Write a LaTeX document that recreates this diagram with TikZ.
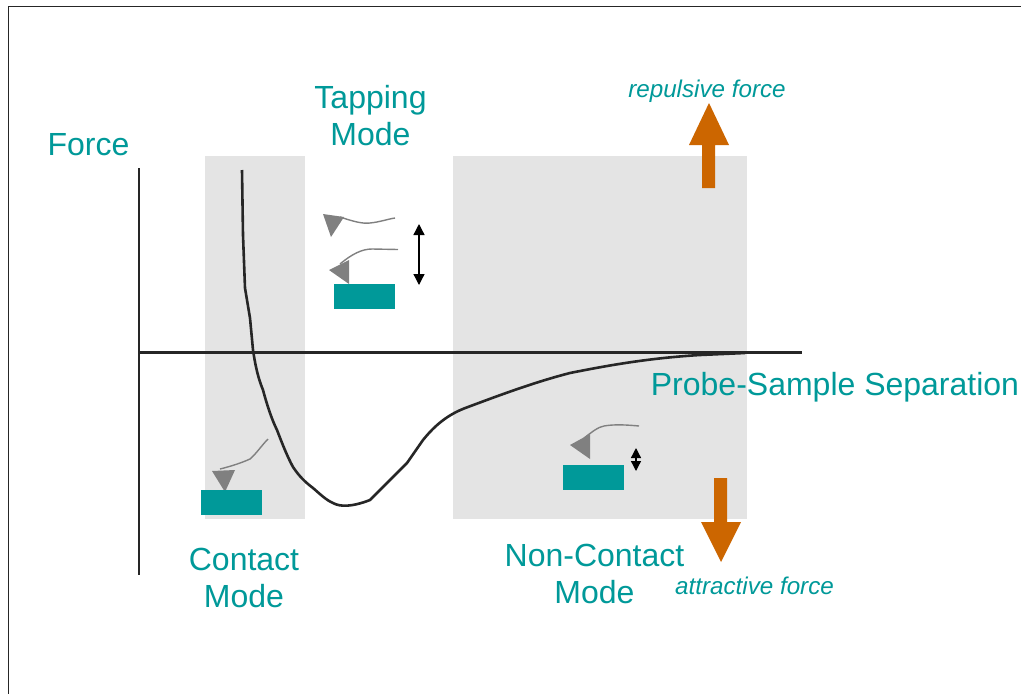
\documentclass[tikz,border=0pt]{standalone}
\usepackage{fontspec}
\setmainfont{Liberation Sans}
\usetikzlibrary{arrows.meta}
\definecolor{teal1}{HTML}{009999}
\definecolor{orange1}{HTML}{CC6600}
\definecolor{band}{HTML}{E4E4E4}
\definecolor{tipgray}{HTML}{808080}
\tikzset{
  x=1pt,y=-1pt,
  label1/.style={text=teal1,font=\fontsize{32}{37}\selectfont,align=center,inner sep=0pt,anchor=center},
  note/.style={text=teal1,font=\fontsize{24.2}{28}\selectfont\itshape,inner sep=0pt,anchor=center},
  bandbox/.style={fill=band,draw=none},
  sample/.style={fill=teal1,draw=none},
  tip/.style={fill=tipgray,draw=none},
  lever/.style={draw=tipgray,line width=1.4pt},
  curve/.style={draw=black!85,line width=2.6pt,line join=round},
  axis/.style={draw=black!85,line width=2.6pt},
  bigarrow/.style={fill=orange1,draw=none},
  dbl/.style={draw=black,line width=1.3pt,{Triangle[length=11pt,width=11pt]}-{Triangle[length=11pt,width=11pt]}}
}
\begin{document}
\begin{tikzpicture}
\useasboundingbox (0,0) rectangle (1021,694);
\fill[white] (0,0) rectangle (1021,694);
% page frame
\draw[black!85,line width=1.5pt] (8.5,694) -- (8.5,6.5) -- (1021,6.5);
% bands
\fill[bandbox] (205,156) rectangle (305,519);
\fill[bandbox] (453,156) rectangle (747,519);
% axes
\coordinate (ytop) at (139,168);
\coordinate (ybot) at (139,575);
\coordinate (xl) at (139,352.5);
\coordinate (xr) at (802,352.5);
\draw[axis] (ytop) -- (ybot);
\draw[axis] (xl) -- (xr);
% force curve
\draw[curve] (242,170) -- (243,235) -- (245,288) -- (250,318) -- (253,350)
  .. controls (256,370) and (259,380) .. (263,390)
  .. controls (267,405) and (272,420) .. (277,430)
  .. controls (282,443) and (287,456) .. (293,467)
  .. controls (299,476) and (305,482) .. (313,488)
  .. controls (320,494) and (326,500) .. (333,503)
  .. controls (340,507) and (352,507) .. (370,500)
  -- (407,463) -- (423,440)
  .. controls (432,429) and (445,415) .. (468,407)
  .. controls (500,395) and (535,382) .. (570,373)
  .. controls (610,365) and (650,358) .. (700,355)
  -- (745,353);
% tapping cantilever top
\fill[tip] (323,214) -- (344,217) -- (331,237) -- cycle;
\draw[lever] (340,217) .. controls (352,221) and (362,224) .. (370,223) .. controls (380,222) and (388,219) .. (395,218);
% tapping cantilever lower
\fill[tip] (349,260) -- (349,284) -- (329,270) -- cycle;
\draw[lever] (340,264) .. controls (352,254) and (362,249) .. (372,249) -- (398,249.5);
\fill[sample] (334,284) rectangle (395,309);
\coordinate (ta) at (419,224);
\coordinate (tb) at (419,285);
\draw[dbl] (ta) -- (tb);
% contact cantilever
\fill[tip] (212,471) -- (235,470) -- (225,492) -- cycle;
\draw[lever] (220,469) .. controls (232,466) and (241,463) .. (250,459) .. controls (256,454) and (262,445) .. (268,439);
\fill[sample] (201,490) rectangle (262,515);
% non-contact cantilever
\fill[tip] (590,434) -- (590,459) -- (570,445) -- cycle;
\draw[lever] (584,438) .. controls (592,432) and (598,427) .. (604,426) .. controls (615,424) and (628,425) .. (639,426);
\fill[sample] (563,465) rectangle (624,490);
\coordinate (na) at (636,448);
\coordinate (nb) at (636,471);
\draw[draw=black,line width=1.3pt,{Triangle[length=10pt,width=10pt]}-{Triangle[length=10pt,width=10pt]}] (na) -- (nb);
% orange arrows
\fill[bigarrow] (702,188) -- (715,188) -- (715,145) -- (729,145) -- (709,103) -- (689,145) -- (702,145) -- cycle;
\fill[bigarrow] (714,478) -- (727,478) -- (727,522) -- (741,522) -- (721,562) -- (701,522) -- (714,522) -- cycle;
% labels
\node[label1] (force) at (88.5,144.5) {Force};
\node[label1] (tapping) at (370.5,115.5) {Tapping\\Mode};
\node[label1] (contact) at (244,578) {Contact\\Mode};
\node[label1] (noncontact) at (594.5,574) {Non-Contact\\Mode};
\node[label1] (sep) at (835,387) {Probe-Sample Separation};
\node[note] (rep) at (707,91) {repulsive force};
\node[note] (att) at (754.5,585.5) {attractive force};
\end{tikzpicture}
\end{document}
